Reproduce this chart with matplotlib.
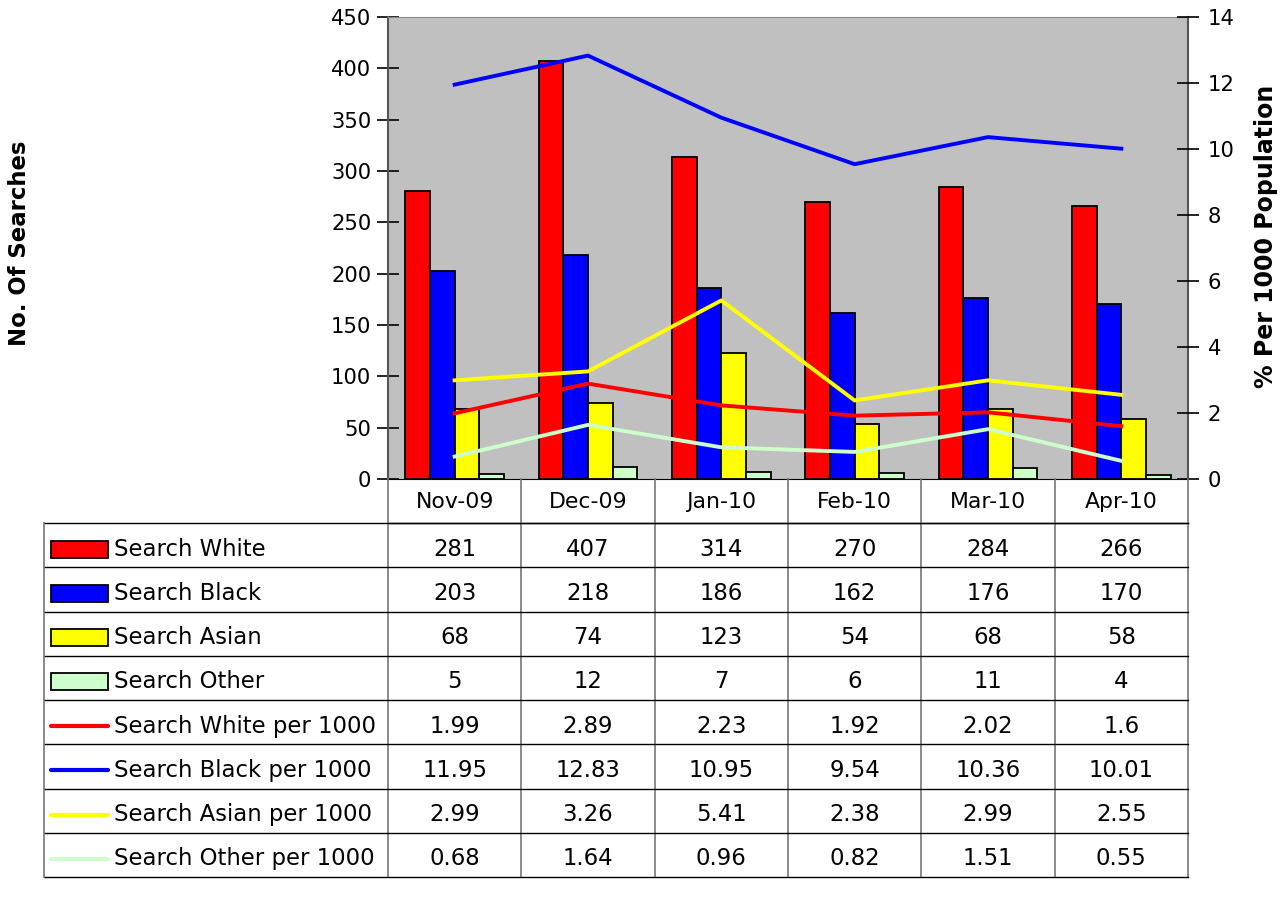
import matplotlib.pyplot as plt
from matplotlib.patches import Rectangle
import numpy as np

months = ['Nov-09', 'Dec-09', 'Jan-10', 'Feb-10', 'Mar-10', 'Apr-10']

search_white = [281, 407, 314, 270, 284, 266]
search_black = [203, 218, 186, 162, 176, 170]
search_asian = [68, 74, 123, 54, 68, 58]
search_other = [5, 12, 7, 6, 11, 4]

white_per_1000 = [1.99, 2.89, 2.23, 1.92, 2.02, 1.6]
black_per_1000 = [11.95, 12.83, 10.95, 9.54, 10.36, 10.01]
asian_per_1000 = [2.99, 3.26, 5.41, 2.38, 2.99, 2.55]
other_per_1000 = [0.68, 1.64, 0.96, 0.82, 1.51, 0.55]

bar_names = ['Search White', 'Search Black', 'Search Asian', 'Search Other']
line_names = ['Search White per 1000', 'Search Black per 1000',
              'Search Asian per 1000', 'Search Other per 1000']
bar_colors = ['#FF0000', '#0000FF', '#FFFF00', '#CCFFCC']
line_colors = ['#FF0000', '#0000FF', '#FFFF00', '#CCFFCC']

W, H = 1287, 899
FS_TICK = 15.2
FS_HEAD = 15.8
FS_TAB = 16.4
FS_LAB = 16.4

plt.rcParams['font.family'] = 'DejaVu Sans'

fig = plt.figure(figsize=(W / 100, H / 100), dpi=100)

# chart area in pixels
px_l, px_r, px_t, px_b = 388, 1188, 17, 479
ax = fig.add_axes([px_l / W, 1 - px_b / H, (px_r - px_l) / W, (px_b - px_t) / H])
ax.set_facecolor('#C0C0C0')

bars = [search_white, search_black, search_asian, search_other]
x = np.arange(len(months))
bw = 0.185
for i, vals in enumerate(bars):
    ax.bar(x + (i - 1.5) * bw, vals, bw, color=bar_colors[i],
           edgecolor='black', linewidth=1.3, zorder=2)
ax.set_xlim(-0.5, len(months) - 0.5)
ax.set_ylim(0, 450)
ax.set_yticks(range(0, 451, 50))
ax.set_xticks([])
ax.tick_params(axis='y', direction='inout', length=16, width=1.2,
               labelsize=FS_TICK, pad=4)
for s in ['left', 'right']:
    ax.spines[s].set_color('#555555')
    ax.spines[s].set_linewidth(1.5)
ax.spines['top'].set_color('#888888')
ax.spines['bottom'].set_color('black')

ax2 = ax.twinx()
lines = [white_per_1000, black_per_1000, asian_per_1000, other_per_1000]
for i, vals in enumerate(lines):
    ax2.plot(x, vals, color=line_colors[i], linewidth=2.8, zorder=3)
ax2.set_ylim(0, 14)
ax2.set_yticks(range(0, 15, 2))
ax2.tick_params(axis='y', direction='inout', length=16, width=1.2,
                labelsize=FS_TICK, pad=6)
for s in ax2.spines.values():
    s.set_visible(False)

fig.text(20 / W, 1 - 243 / H, 'No. Of Searches', rotation=90,
         ha='center', va='center', fontsize=FS_LAB, fontweight='bold')
fig.text(1266 / W, 1 - 236 / H, '% Per 1000 Population', rotation=90,
         ha='center', va='center', fontsize=17, fontweight='bold')

# data table drawn in pixel coordinates
tb = fig.add_axes([0, 0, 1, 1])
tb.set_xlim(0, W)
tb.set_ylim(H, 0)
tb.axis('off')

col_w = (px_r - px_l) / len(months)
head_t, head_b = px_b, 523
row_h = 44.25
tab_l = 44
n_rows = len(bar_names) + len(line_names)
tab_b = head_b + n_rows * row_h

# header row
tb.plot([px_l, px_r], [head_b, head_b], color='black', lw=1)
for j in range(len(months) + 1):
    xx = px_l + j * col_w
    tb.plot([xx, xx], [head_t, tab_b], color='#777777', lw=1.2)
for j, m in enumerate(months):
    tb.text(px_l + (j + 0.5) * col_w, (head_t + head_b) / 2 + 1, m,
            ha='center', va='center', fontsize=FS_HEAD)

# horizontal lines
for r in range(n_rows + 1):
    yy = head_b + r * row_h
    tb.plot([tab_l, px_r], [yy, yy], color='black', lw=1)
tb.plot([tab_l, tab_l], [head_b, tab_b], color='#777777', lw=1.2)

all_names = bar_names + line_names
all_vals = bars + lines
for r, (name, vals) in enumerate(zip(all_names, all_vals)):
    yc = head_b + (r + 0.5) * row_h + 4
    if r < len(bar_names):
        tb.add_patch(Rectangle((51, yc - 8.5), 57, 17, facecolor=bar_colors[r],
                               edgecolor='black', lw=1.3))
    else:
        tb.plot([51, 108], [yc, yc], color=line_colors[r - 4], lw=3,
                solid_capstyle='round')
    tb.text(114, yc, name, ha='left', va='center', fontsize=FS_TAB)
    for j, v in enumerate(vals):
        tb.text(px_l + (j + 0.5) * col_w, yc, f'{v:g}',
                ha='center', va='center', fontsize=FS_TAB)

fig.savefig('out.png', dpi=100)
